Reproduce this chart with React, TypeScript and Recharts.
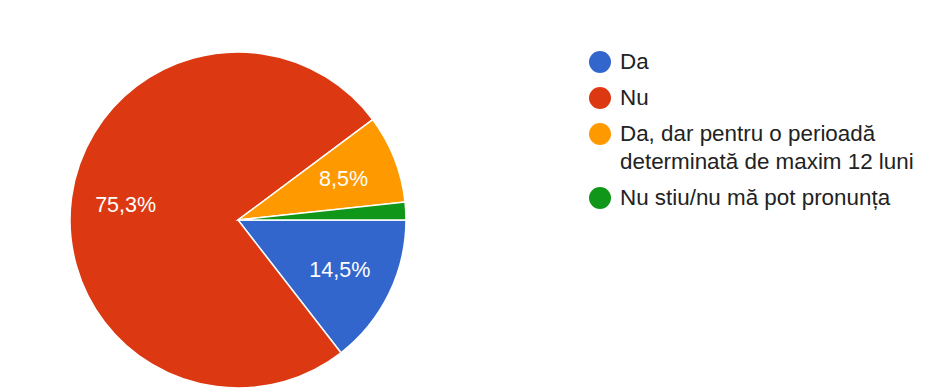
import React from 'react';
import { PieChart, Pie, Cell, Legend } from 'recharts';

const categories = ['Da', 'Nu', 'Da, dar pentru o perioadă determinată de maxim 12 luni', 'Nu stiu/nu mă pot pronunța'];
const values = [14.5, 75.3, 8.5, 1.7];
const colors = ['#3366cc', '#dc3912', '#ff9900', '#109618'];

const data = categories.map((name, i) => ({ name, value: values[i] }));

const FONT = 'Arial, "Liberation Sans", sans-serif';
const RAD = Math.PI / 180;

const renderLabel = (props: any) => {
  const { cx, cy, midAngle, outerRadius, index } = props;
  const v = values[index];
  if (v < 5) return null;
  const r = outerRadius * 0.675;
  const x = cx + r * Math.cos(-midAngle * RAD);
  const y = cy + r * Math.sin(-midAngle * RAD);
  return (
    <text x={x} y={y} fill="#ffffff" textAnchor="middle" dominantBaseline="central" fontSize={21.5} fontFamily={FONT}>
      {v.toFixed(1).replace('.', ',') + '%'}
    </text>
  );
};

const LegendContent = () => (
  <div style={{ position: 'absolute', left: 589, top: 48, width: 340, fontFamily: FONT, fontSize: 22.4, color: '#222222' }}>
    {categories.map((c, i) => (
      <div key={c} style={{ position: 'relative', lineHeight: '28px', marginBottom: 8, paddingLeft: 31 }}>
        <span style={{ position: 'absolute', left: 0, top: 3, width: 22, height: 22, borderRadius: '50%', background: colors[i] }} />
        <span style={{ display: 'block', width: 300 }}>{c}</span>
      </div>
    ))}
  </div>
);

export default function App() {
  return (
    <div style={{ position: 'absolute', left: 0, top: 0, width: 945, height: 388, background: '#ffffff' }}>
      <PieChart width={945} height={388} margin={{ top: 0, right: 0, bottom: 0, left: 0 }}>
        <Pie
          data={data}
          dataKey="value"
          nameKey="name"
          cx={238}
          cy={220}
          outerRadius={168}
          startAngle={0}
          endAngle={-360}
          stroke="#ffffff"
          strokeWidth={1.5}
          label={renderLabel}
          labelLine={false}
          isAnimationActive={false}
        >
          {data.map((d, i) => (
            <Cell key={d.name} fill={colors[i]} />
          ))}
        </Pie>
        <Legend content={<LegendContent />} wrapperStyle={{ position: 'absolute', left: 0, top: 0, width: 945, height: 388 }} />
      </PieChart>
    </div>
  );
}
